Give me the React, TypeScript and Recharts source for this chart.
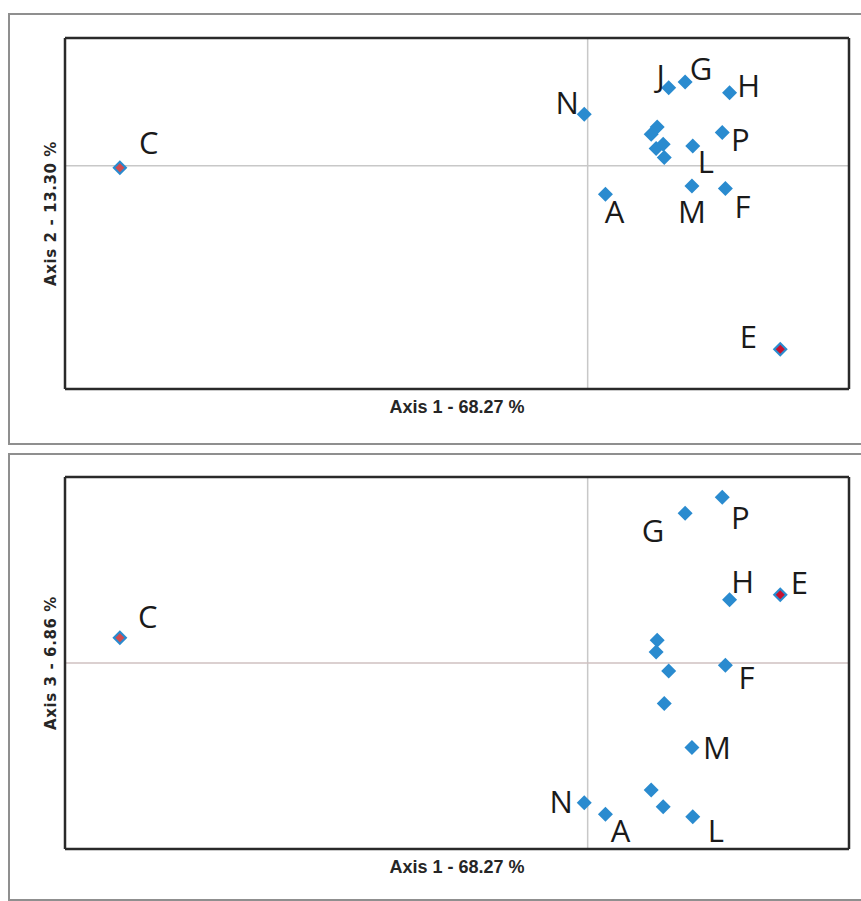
import { ScatterChart, Scatter, XAxis, YAxis, ReferenceLine, Label } from "recharts";

// PCA scores (same Axis 1 for both panels)
const SAMPLES = ["A", "B", "C", "D", "E", "F", "G", "H", "I", "J", "K", "L", "M", "N", "O", "P"];
const AXIS_1 = [0.068, 0.243, -1.79, 0.266, 0.737, 0.527, 0.373, 0.543, 0.262, 0.31, 0.289, 0.402, 0.399, -0.013, 0.293, 0.515];
const AXIS_2 = [-0.224, 0.246, -0.016, 0.303, -1.439, -0.18, 0.656, 0.572, 0.135, 0.611, 0.168, 0.154, -0.159, 0.403, 0.063, 0.259];
const AXIS_3 = [-0.813, -0.683, 0.136, 0.122, 0.367, -0.012, 0.805, 0.34, 0.059, -0.043, -0.773, -0.826, -0.454, -0.751, -0.218, 0.891];

const X_TITLE = "Axis 1 - 68.27 %";
const Y2_TITLE = "Axis 2 - 13.30 %";
const Y3_TITLE = "Axis 3 - 6.86 %";

const X_DOMAIN: [number, number] = [-2, 1];

// label placement relative to the marker, per panel (unlisted samples are unlabeled)
const LABELS_2: Record<string, [number, number]> = {
  N: [-17, -12],
  J: [-8, -13],
  G: [16, -14],
  H: [19, -8],
  P: [18, 6],
  L: [13, 15],
  M: [0, 25],
  F: [17, 17],
  A: [9, 17],
  C: [29, -26],
  E: [-32, -13],
};
const LABELS_3: Record<string, [number, number]> = {
  P: [18, 20],
  G: [-32, 17],
  H: [13, -19],
  E: [19, -13],
  F: [21, 12],
  M: [25, 0],
  N: [-23, -2],
  A: [15, 16],
  L: [23, 13],
  C: [28, -22],
};

const BLUE = "#2a8bcf";
const HIGHLIGHT: Record<string, string> = { C: "#d24b4f", E: "#c8102e" };

const diamond = (cx: number, cy: number, r: number) =>
  `${cx},${cy - r} ${cx + r},${cy} ${cx},${cy + r} ${cx - r},${cy}`;

const pointShape = (labels: Record<string, [number, number]>) => (props: any) => {
  const { cx, cy, payload } = props;
  const inner = HIGHLIGHT[payload.name];
  const off = labels[payload.name];
  return (
    <g>
      <polygon points={diamond(cx, cy, 7.5)} fill={BLUE} />
      {inner && <polygon points={diamond(cx, cy, 4.5)} fill={inner} />}
      {off && (
        <text
          x={cx + off[0]}
          y={cy + off[1]}
          textAnchor="middle"
          dominantBaseline="central"
          fontFamily="'Open Sans', sans-serif"
          fontSize={31}
          fill="#1a1a1a"
        >
          {payload.name}
        </text>
      )}
    </g>
  );
};

const FRAME = { stroke: "#2a2a2a", strokeWidth: 2.5 };

type PanelProps = {
  top: number;
  height: number;
  marginTop: number;
  marginBottom: number;
  yValues: number[];
  yDomain: [number, number];
  yTitle: string;
  labels: Record<string, [number, number]>;
  hLine: string;
};

function Panel({ top, height, marginTop, marginBottom, yValues, yDomain, yTitle, labels, hLine }: PanelProps) {
  const data = SAMPLES.map((name, i) => ({ name, x: AXIS_1[i], y: yValues[i] }));
  return (
    <>
      <div
        style={{
          position: "absolute",
          left: 8,
          top,
          width: 900,
          height,
          boxSizing: "border-box",
          border: "2px solid #8f8f8f",
        }}
      />
      <div style={{ position: "absolute", left: 8, top }}>
        <ScatterChart
          width={853}
          height={height}
          margin={{ top: marginTop, right: 12, bottom: marginBottom, left: 29 }}
        >
          <XAxis
            type="number"
            dataKey="x"
            domain={X_DOMAIN}
            allowDataOverflow
            tick={false}
            tickLine={false}
            axisLine={FRAME}
            height={40}
          >
            <Label
              value={X_TITLE}
              position="insideTop"
              offset={11}
              fontFamily="'Liberation Sans', Arial, sans-serif"
              fontWeight="bold"
              fontSize={18}
              fill="#262626"
            />
          </XAxis>
          <YAxis
            type="number"
            dataKey="y"
            domain={yDomain}
            allowDataOverflow
            tick={false}
            tickLine={false}
            axisLine={FRAME}
            width={28}
          >
            <Label
              value={yTitle}
              position="center"
              angle={-90}
              fontFamily="'DejaVu Sans', Verdana, sans-serif"
              fontWeight="bold"
              fontSize={15}
              letterSpacing={0.6}
              fill="#262626"
            />
          </YAxis>
          <ReferenceLine x={0} stroke="#c8c8c8" strokeWidth={1.5} />
          <ReferenceLine y={0} stroke={hLine} strokeWidth={1.5} />
          {/* top and right edges of the plot frame */}
          <ReferenceLine y={yDomain[1]} stroke={FRAME.stroke} strokeWidth={FRAME.strokeWidth} />
          <ReferenceLine x={X_DOMAIN[1]} stroke={FRAME.stroke} strokeWidth={FRAME.strokeWidth} />
          <Scatter data={data} isAnimationActive={false} shape={pointShape(labels)} />
        </ScatterChart>
      </div>
    </>
  );
}

export default function App() {
  return (
    <div
      style={{
        position: "absolute",
        left: 0,
        top: 0,
        width: 861,
        height: 901,
        overflow: "hidden",
        background: "#fff",
      }}
    >
      <Panel
        top={13}
        height={432}
        marginTop={25}
        marginBottom={16}
        yValues={AXIS_2}
        yDomain={[-1.75, 1]}
        yTitle={Y2_TITLE}
        labels={LABELS_2}
        hLine="#c8c8c8"
      />
      <Panel
        top={453}
        height={448}
        marginTop={24}
        marginBottom={12}
        yValues={AXIS_3}
        yDomain={[-1, 1]}
        yTitle={Y3_TITLE}
        labels={LABELS_3}
        hLine="#cfc0c0"
      />
    </div>
  );
}
